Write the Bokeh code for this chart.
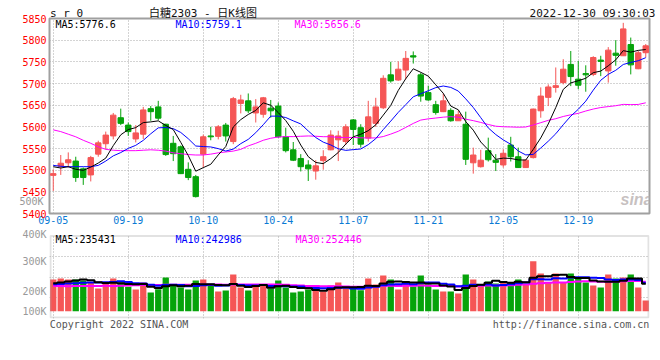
from bokeh.plotting import figure
from bokeh.models import Range1d, FixedTicker, Label, ColumnDataSource, LinearAxis, BoxAnnotation
from bokeh.layouts import column
from bokeh.embed import file_html
from bokeh.resources import INLINE

# ---------------- data ----------------
opens = [5488, 5509, 5517, 5521, 5503, 5489, 5537, 5561, 5579, 5621,
         5604, 5572, 5583, 5642, 5646, 5606, 5562, 5554, 5502, 5485,
         5537, 5579, 5578, 5604, 5566, 5654, 5660, 5632, 5629, 5643,
         5648, 5577, 5547, 5527, 5512, 5498, 5522, 5547, 5570, 5566,
         5616, 5598, 5574, 5608, 5644, 5720, 5708, 5731, 5764, 5720,
         5679, 5651, 5635, 5638, 5614, 5606, 5517, 5508, 5545, 5523,
         5512, 5558, 5531, 5506, 5529, 5637, 5668, 5691, 5702, 5744,
         5710, 5723, 5721, 5754, 5729, 5770, 5764, 5790, 5734, 5771]
highs = [5502, 5535, 5541, 5531, 5506, 5533, 5568, 5589, 5632, 5642,
         5610, 5604, 5646, 5648, 5660, 5607, 5579, 5557, 5518, 5489,
         5582, 5600, 5604, 5609, 5669, 5674, 5677, 5664, 5669, 5662,
         5656, 5598, 5565, 5537, 5523, 5523, 5546, 5592, 5591, 5606,
         5618, 5606, 5660, 5667, 5719, 5750, 5751, 5775, 5774, 5725,
         5695, 5660, 5677, 5643, 5637, 5635, 5552, 5547, 5575, 5537,
         5548, 5577, 5552, 5524, 5642, 5691, 5698, 5737, 5756, 5775,
         5752, 5742, 5763, 5764, 5784, 5800, 5840, 5806, 5775, 5791]
lows = [5452, 5489, 5506, 5473, 5466, 5474, 5531, 5548, 5571, 5604,
        5579, 5564, 5572, 5614, 5615, 5533, 5521, 5491, 5477, 5437,
        5506, 5569, 5571, 5566, 5560, 5631, 5632, 5610, 5621, 5621,
        5575, 5541, 5521, 5497, 5475, 5478, 5501, 5546, 5521, 5558,
        5558, 5552, 5566, 5600, 5641, 5702, 5706, 5710, 5746, 5658,
        5660, 5628, 5634, 5612, 5614, 5512, 5492, 5506, 5520, 5498,
        5506, 5520, 5505, 5505, 5527, 5621, 5648, 5679, 5698, 5694,
        5687, 5681, 5717, 5717, 5702, 5741, 5764, 5721, 5733, 5760]
closes = [5492, 5516, 5524, 5483, 5483, 5529, 5563, 5581, 5627, 5608,
          5589, 5586, 5639, 5635, 5620, 5536, 5538, 5492, 5483, 5439,
          5577, 5577, 5600, 5579, 5665, 5662, 5637, 5646, 5667, 5637,
          5577, 5545, 5523, 5508, 5503, 5510, 5531, 5581, 5579, 5600,
          5594, 5560, 5623, 5646, 5712, 5706, 5733, 5758, 5761, 5671,
          5662, 5633, 5660, 5614, 5628, 5525, 5535, 5523, 5524, 5518,
          5539, 5531, 5506, 5523, 5641, 5671, 5692, 5695, 5733, 5716,
          5696, 5720, 5760, 5751, 5777, 5765, 5826, 5743, 5771, 5787]
volumes = [271600, 280200, 271600, 271600, 263000, 243000, 194500, 237300, 280200, 245900,
           208800, 186000, 245900, 160200, 188800, 288700, 228700, 203000, 186000, 263000,
           271600, 228700, 168800, 177400, 314400, 203000, 177400, 211600, 220200, 194500,
           263000, 203000, 160200, 168800, 186000, 194500, 168800, 220200, 245900, 194500,
           194500, 180200, 280200, 228700, 305900, 271600, 186000, 254500, 211600, 305900,
           228700, 186000, 168800, 168800, 151700, 314400, 271600, 228700, 254500, 237300,
           257300, 245900, 271600, 228700, 428700, 323000, 245900, 323000, 245900, 323000,
           280200, 245900, 220200, 203000, 314400, 280200, 288700, 314400, 203000, 91700]

# moving-average values at the start of the window
ma5_lead = [5508, 5505, 5508, 5502]
ma10_lead = [5511, 5509, 5508, 5508, 5508, 5508, 5511, 5521, 5533]
ma30_lead = [5593, 5589, 5583, 5577, 5569, 5562, 5554, 5548, 5546, 5545,
             5545, 5545, 5546, 5547, 5546, 5544, 5540, 5538, 5536, 5535,
             5535, 5537, 5540, 5542, 5544, 5548, 5556, 5562, 5569]
vma5_lead = [240000, 246000, 254000, 262000]
vma10_lead = [232000, 234000, 237000, 240000, 243000, 246000, 247000, 248000, 250000]
vma30_lead = [215000, 215000, 214000, 215000, 216000, 216000, 217000, 218000, 217000, 219000,
              221000, 222000, 224000, 225000, 224000, 226000, 227000, 226000, 227000, 228000,
              228000, 227000, 228000, 227000, 229000, 228000, 228000, 229000, 229000]

tick_idx = [0, 10, 20, 30, 40, 50, 60, 70]
tick_labels = ["09-05", "09-19", "10-10", "10-24", "11-07", "11-21", "12-05", "12-19"]
price_ticks = [5400, 5450, 5500, 5550, 5600, 5650, 5700, 5750, 5800, 5850]

header_texts = ["s r 0", "白糖2303 - 日K线图", "2022-12-30 09:30:03"]
footer_texts = ["Copyright 2022 SINA.COM", "http://finance.sina.com.cn"]
price_legend = [("MA5:5776.6", "black"), ("MA10:5759.1", "#0000ff"), ("MA30:5656.6", "#ff00ff")]
vol_legend = [("MA5:235431", "black"), ("MA10:242986", "#0000ff"), ("MA30:252446", "#ff00ff")]
vol_side_labels = ["500K", "400K", "300K", "200K", "100K"]


def moving_avg(vals, win, lead):
    out = list(lead)
    for i in range(len(lead), len(vals)):
        out.append(sum(vals[i - win + 1:i + 1]) / win)
    return out


n = len(closes)
idx = list(range(n))
UP, DOWN = "#f55656", "#06a30b"
colors = [UP if c >= o else DOWN for o, c in zip(opens, closes)]
src = ColumnDataSource(dict(
    x=idx, o=opens, h=highs, l=lows, c=closes,
    top=[max(o, c) for o, c in zip(opens, closes)],
    bot=[min(o, c) for o, c in zip(opens, closes)],
    color=colors, vol=volumes))

ma5 = moving_avg(closes, 5, ma5_lead)
ma10 = moving_avg(closes, 10, ma10_lead)
ma30 = moving_avg(closes, 30, ma30_lead)
vma5 = moving_avg(volumes, 5, vma5_lead)
vma10 = moving_avg(volumes, 10, vma10_lead)
vma30 = moving_avg(volumes, 30, vma30_lead)

MONO = "DejaVu Sans Mono"
FRAME = "#a0a0a0"
GRID = "#a8a8a8"

# ---------------- layout constants (pixels) ----------------
FW, MAIN_H = 600, 195
LEFT, RIGHT = 49, 11
MAIN_TOP, MAIN_BOTTOM = 18, 15
VOL_TOP, VOL_BOTTOM = 0, 14
VOL_FRAME_Y = MAIN_TOP + MAIN_H + MAIN_BOTTOM + VOL_TOP   # top of the volume drawing area
VOL_PANEL_TOP, VOL_PANEL_BOTTOM = 235, 318                 # visible volume box
VOL_H = VOL_PANEL_BOTTOM - VOL_FRAME_Y
P_LO, P_HI = 5400, 5850
VPX = 8569                                                 # volume units per pixel
V_LO = -7.3 * VPX
V_HI = V_LO + VOL_H * VPX


def dx(px):
    return -0.5 + (px - LEFT) * n / FW


def dy_main(py):
    return P_HI - (py - MAIN_TOP) * (P_HI - P_LO) / MAIN_H


def dy_vol(py):
    return V_HI - (py - VOL_FRAME_Y) * (V_HI - V_LO) / VOL_H


def plain_axis(ax, color, size="10px", standoff=3, font=MONO):
    ax.major_label_text_color = color
    ax.major_label_text_font = font
    ax.major_label_text_font_size = size
    ax.major_label_standoff = standoff
    ax.major_tick_line_color = None
    ax.minor_tick_line_color = None
    ax.major_tick_out = 0
    ax.major_tick_in = 0
    ax.minor_tick_out = 0
    ax.minor_tick_in = 0
    ax.axis_line_color = None


def dotted(grid):
    grid.grid_line_color = GRID
    grid.grid_line_dash = "1 2"
    grid.grid_line_width = 1


# ---------------- price panel ----------------
p = figure(frame_width=FW, frame_height=MAIN_H,
           x_range=Range1d(-0.5, n - 0.5), y_range=Range1d(P_LO, P_HI),
           output_backend="svg", toolbar_location=None,
           min_border_left=LEFT, min_border_right=RIGHT,
           min_border_top=MAIN_TOP, min_border_bottom=MAIN_BOTTOM)
p.outline_line_color = FRAME
p.outline_line_width = 2

yax = p.left[0]
yax.ticker = FixedTicker(ticks=price_ticks)
plain_axis(yax, "#ff0000")

# grey volume-scale label that sits beside the price panel (outer axis pulled back in)
k5_pos = [dy_main(200.7)]
k5_axis = LinearAxis(ticker=FixedTicker(ticks=k5_pos),
                     major_label_overrides=dict(zip(k5_pos, vol_side_labels[:1])))
plain_axis(k5_axis, "#999999", standoff=-24)
p.add_layout(k5_axis, "left")

xax = p.below[0]
xax.ticker = FixedTicker(ticks=tick_idx)
xax.major_label_overrides = dict(zip(tick_idx, tick_labels))
plain_axis(xax, "#0a7ad4", standoff=2)

# header line carried by an axis above the price panel
head_pos = [dx(66), dx(202.5), dx(592)]
head_axis = LinearAxis(ticker=FixedTicker(ticks=head_pos),
                       major_label_overrides=dict(zip(head_pos, header_texts)))
plain_axis(head_axis, "#111111", size="11px", standoff=-1,
           font="DejaVu Sans Mono, Noto Sans CJK SC")
p.add_layout(head_axis, "above")

p.xgrid.ticker = FixedTicker(ticks=tick_idx)
p.ygrid.ticker = FixedTicker(ticks=price_ticks[1:-1])
dotted(p.xgrid[0])
dotted(p.ygrid[0])

p.add_layout(Label(x=dx(636), y=dy_main(199), text="sina", text_font="Liberation Sans",
                   text_font_style="bold italic", text_font_size="16px",
                   text_color="#b8b0b0", text_alpha=0.8,
                   text_align="center", text_baseline="middle"))

p.segment(x0="x", y0="l", x1="x", y1="h", line_color="color", line_width=1, source=src)
p.vbar(x="x", width=0.72, top="top", bottom="bot", fill_color="color",
       line_color="color", line_width=1, source=src)
p.line(idx, ma30, line_color="#ff00ff", line_width=1)
p.line(idx, ma10, line_color="#0000ff", line_width=1)
p.line(idx, ma5, line_color="black", line_width=1)

for (txt, col), xs in zip(price_legend, (55, 175, 294)):
    p.add_layout(Label(x=dx(xs), y=dy_main(23.5), text=txt, text_font=MONO,
                       text_font_size="10px", text_color=col,
                       text_align="left", text_baseline="middle"))

# ---------------- volume panel ----------------
q = figure(frame_width=FW, frame_height=VOL_H,
           x_range=p.x_range, y_range=Range1d(V_LO, V_HI),
           output_backend="svg", toolbar_location=None,
           min_border_left=LEFT, min_border_right=RIGHT,
           min_border_top=VOL_TOP, min_border_bottom=VOL_BOTTOM)
q.outline_line_color = None

vy_pos = [dy_vol(232), dy_vol(260.7), dy_vol(290.7), dy_vol(310.7)]
vyax = q.left[0]
vyax.ticker = FixedTicker(ticks=vy_pos)
vyax.major_label_overrides = dict(zip(vy_pos, vol_side_labels[1:]))
plain_axis(vyax, "#999999")

foot_pos = [dx(118.5), dx(570.5)]
vxax = q.below[0]
vxax.ticker = FixedTicker(ticks=foot_pos)
vxax.major_label_overrides = dict(zip(foot_pos, footer_texts))
plain_axis(vxax, "#555555", standoff=0)

panel_h = VOL_PANEL_BOTTOM - VOL_PANEL_TOP
q.xgrid.ticker = FixedTicker(ticks=tick_idx)
q.ygrid.ticker = FixedTicker(ticks=[dy_vol(VOL_PANEL_TOP + panel_h * k / 4) for k in (1, 2, 3)])
dotted(q.xgrid[0])
dotted(q.ygrid[0])

q.vbar(x="x", width=0.84, top="vol", bottom=0, fill_color="color", line_color=None, source=src)
q.step(idx, vma30, mode="center", line_color="#ff00ff", line_width=2)
q.step(idx, vma10, mode="center", line_color="#0000ff", line_width=2)
q.step(idx, vma5, mode="center", line_color="black", line_width=2)

# blank strip above the visible volume box, then the box itself
q.add_layout(BoxAnnotation(bottom=dy_vol(VOL_PANEL_TOP), fill_color="white", fill_alpha=1.0,
                           line_color=None))
q.add_layout(BoxAnnotation(left=dx(LEFT + 1), right=dx(LEFT + FW - 1),
                           top=dy_vol(VOL_PANEL_TOP + 0.5), bottom=dy_vol(VOL_PANEL_BOTTOM - 1),
                           fill_alpha=0.0, line_color=FRAME, line_width=2))

for (txt, col), xs in zip(vol_legend, (55, 175, 295)):
    q.add_layout(Label(x=dx(xs), y=dy_vol(238.5), text=txt, text_font=MONO,
                       text_font_size="10px", text_color=col,
                       text_align="left", text_baseline="middle"))

layout = column(p, q, spacing=0)
open("out.html", "w").write(file_html(layout, INLINE))
